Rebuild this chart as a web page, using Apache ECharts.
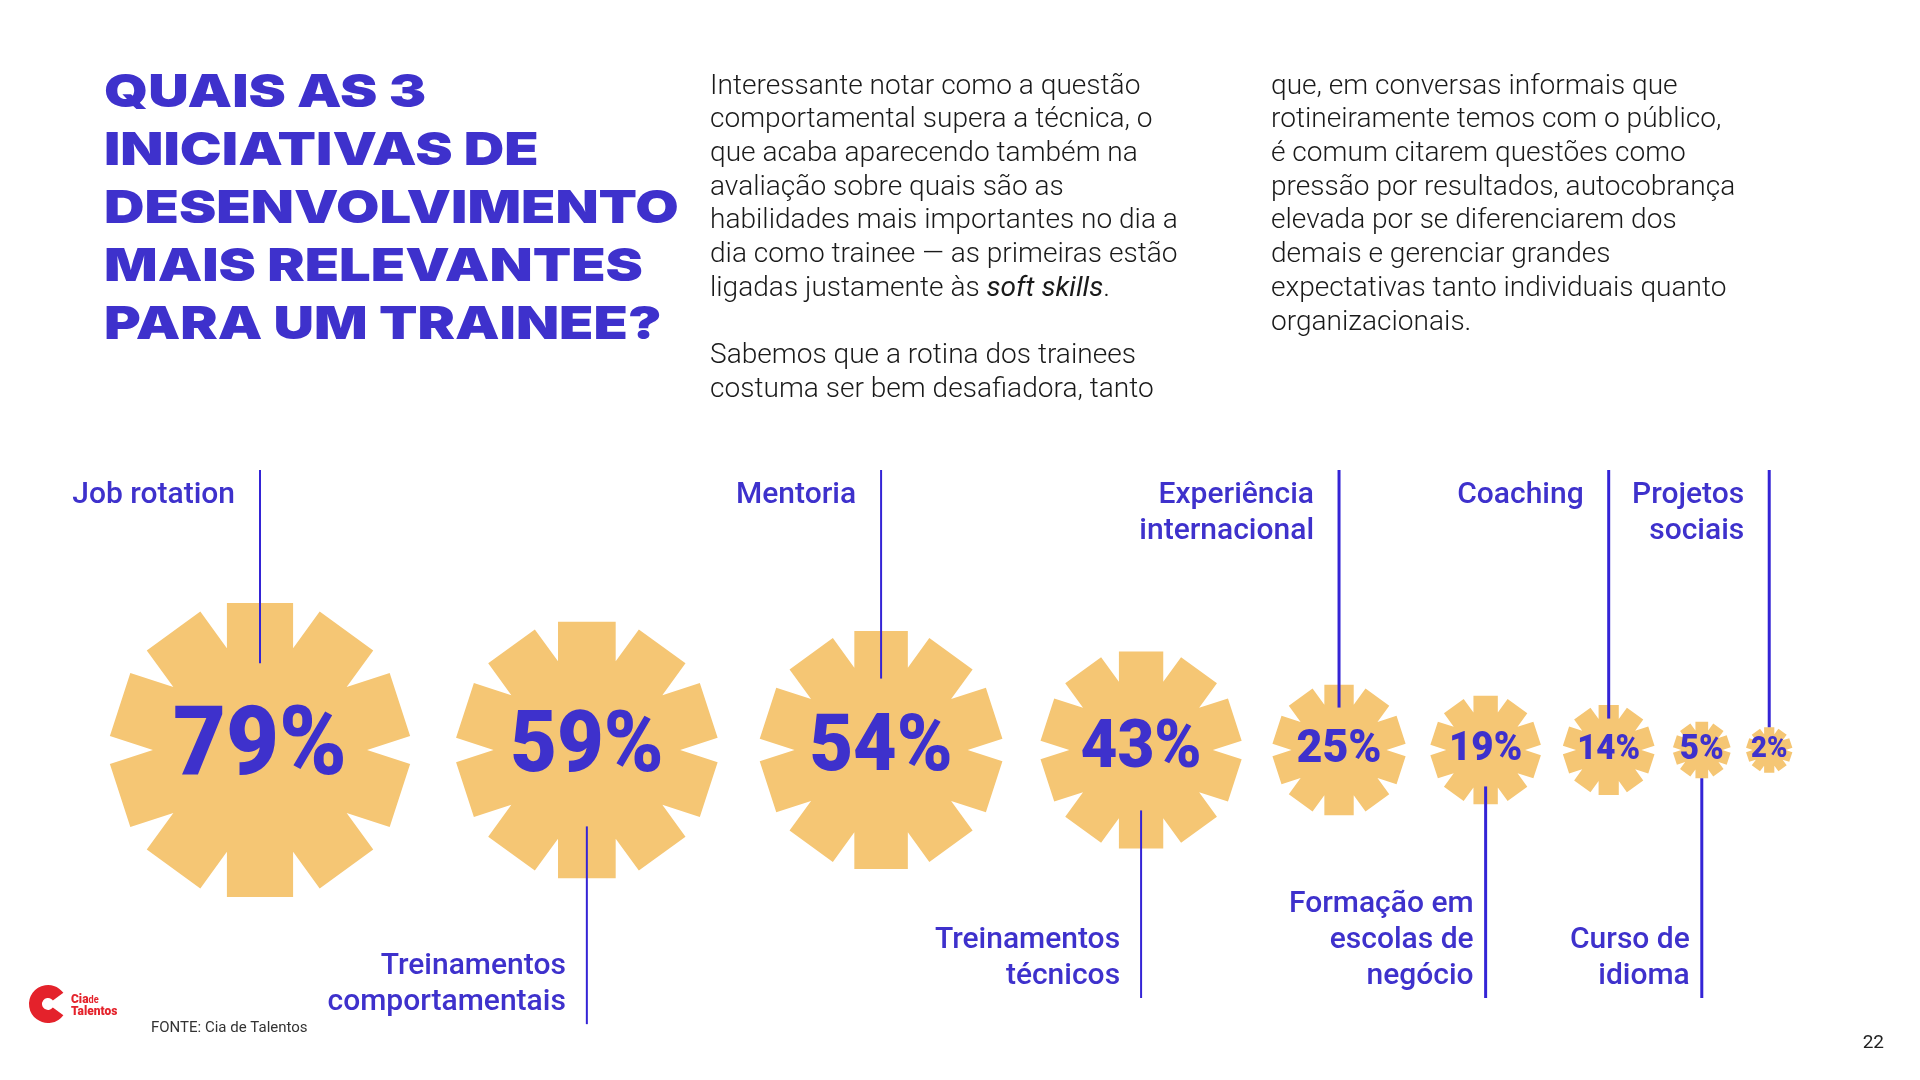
<!DOCTYPE html>
<html>
<head>
<meta charset="utf-8">
<script src="https://cdn.jsdelivr.net/npm/echarts@6/dist/echarts.min.js"></script>
<style>
html, body { margin: 0; padding: 0; background: #ffffff; }
#chart { width: 1920px; height: 1080px; }
</style>
</head>
<body>
<div id="chart"></div>
<script>
// ---------------- data ----------------
const categories = [
  'Job rotation',
  'Treinamentos\ncomportamentais',
  'Mentoria',
  'Treinamentos\ntécnicos',
  'Experiência\ninternacional',
  'Formação em\nescolas de\nnegócio',
  'Coaching',
  'Curso de\nidioma',
  'Projetos\nsociais'
];
const values = [79, 59, 54, 43, 25, 19, 14, 5, 2];

const titleLines = ['QUAIS AS 3', 'INICIATIVAS DE', 'DESENVOLVIMENTO', 'MAIS RELEVANTES', 'PARA UM TRAINEE?'];
const paragraph1 = [
  'Interessante notar como a questão',
  'comportamental supera a técnica, o',
  'que acaba aparecendo também na',
  'avaliação sobre quais são as',
  'habilidades mais importantes no dia a',
  'dia como trainee — as primeiras estão',
  'ligadas justamente às {i|soft skills}.'
];
const paragraph2 = [
  'Sabemos que a rotina dos trainees',
  'costuma ser bem desafiadora, tanto'
];
const paragraph3 = [
  'que, em conversas informais que',
  'rotineiramente temos com o público,',
  'é comum citarem questões como',
  'pressão por resultados, autocobrança',
  'elevada por se diferenciarem dos',
  'demais e gerenciar grandes',
  'expectativas tanto individuais quanto',
  'organizacionais.'
];
const sourceText = 'FONTE: Cia de Talentos';
const pageNumber = '22';

// ---------------- styles / layout ----------------
const BLUE = '#3E31CC';
const LINE_BLUE = '#3424D6';
const BADGE = '#F5C674';
const ROW_Y = 750;
const FIRST_X = 260;
const TOP_LINE_Y = 470;
const TOP_TEXT_TOP = 477;
const BOTTOM_BASELINE = 986;
const LABEL_LH = 36;

// badge size scale (diameter in px) from value
function sizeOf(v) {
  return 38 + 3.7 * v - 0.1 * Math.pow(Math.max(0, v - 60), 2);
}
const sizes = values.map(sizeOf);

// 10-ray badge outline: union of five rotated bars
function starPath() {
  const half = 100, hw = 22.5;
  const d = hw / Math.sin(Math.PI / 10);
  const pts = [];
  for (let k = 0; k < 10; k++) {
    const t = k * Math.PI / 5;
    const ux = Math.sin(t), uy = -Math.cos(t);
    const px = Math.cos(t), py = Math.sin(t);
    pts.push([half * ux - hw * px, half * uy - hw * py]);
    pts.push([half * ux + hw * px, half * uy + hw * py]);
    const tn = t + Math.PI / 10;
    pts.push([d * Math.sin(tn), -d * Math.cos(tn)]);
  }
  let minX = Infinity, maxX = -Infinity, minY = Infinity, maxY = -Infinity;
  pts.forEach(p => { minX = Math.min(minX, p[0]); maxX = Math.max(maxX, p[0]); minY = Math.min(minY, p[1]); maxY = Math.max(maxY, p[1]); });
  const str = 'path://M' + pts.map(p => p[0].toFixed(3) + ' ' + p[1].toFixed(3)).join(' L') + ' Z';
  return { str, ratio: (maxX - minX) / (maxY - minY) };
}
const STAR = starPath();

// packed horizontal layout derived from badge sizes
const xs = [];
sizes.forEach((s, i) => {
  if (i === 0) { xs.push(FIRST_X); return; }
  const prev = sizes[i - 1];
  const gap = 8.5 + 0.068 * (prev + s);
  xs.push(xs[i - 1] + (prev + s) * STAR.ratio / 2 + gap);
});

function pctFontSize(i) {
  const L = sizes[i];
  const txt = String(values[i]) + '%';
  return txt.length >= 3 ? 0.3 * L + 8 : 0.55 * L + 4;
}

const chart = echarts.init(document.getElementById('chart'), null, { renderer: 'canvas' });

const graphics = [];
// title
graphics.push({
  type: 'text', x: 104, y: 64, scaleX: 1.22,
  style: {
    text: titleLines.join('\n'), fill: BLUE,
    fontFamily: 'Inter', fontWeight: 900, fontSize: 46, lineHeight: 58,
    verticalAlign: 'top', align: 'left'
  }
});
// paragraphs
const PFS = 27, PLH = 33.7;
const pStyle = { fill: '#1a1a1a', fontFamily: 'Roboto', fontWeight: 300, fontSize: PFS, lineHeight: PLH, verticalAlign: 'top', align: 'left' };
graphics.push({
  type: 'text', x: 710, y: 70, scaleX: 1.04,
  style: Object.assign({}, pStyle, {
    text: paragraph1.join('\n'),
    rich: { i: { fontFamily: 'Roboto', fontStyle: 'italic', fontWeight: 400, fontSize: PFS, lineHeight: PLH, fill: '#1a1a1a' } }
  })
});
graphics.push({
  type: 'text', x: 710, y: 70 + PLH * 8, scaleX: 1.04,
  style: Object.assign({}, pStyle, { text: paragraph2.join('\n') })
});
graphics.push({
  type: 'text', x: 1271, y: 70, scaleX: 1.04,
  style: Object.assign({}, pStyle, { text: paragraph3.join('\n') })
});
// logo
graphics.push({
  type: 'arc', shape: { cx: 48, cy: 1004, r: 12.5, startAngle: Math.PI / 5, endAngle: Math.PI * 9 / 5, clockwise: true },
  style: { stroke: '#E4222B', lineWidth: 13, fill: null }
});
graphics.push({
  type: 'text', x: 71, y: 994, scaleX: 0.92,
  style: {
    text: '{a|Cia}{b|de}\n{a|Talentos}', verticalAlign: 'top',
    rich: {
      a: { fill: '#E4222B', fontFamily: 'Roboto', fontWeight: 900, fontSize: 13, lineHeight: 12 },
      b: { fill: '#E4222B', fontFamily: 'Roboto', fontWeight: 700, fontSize: 10, lineHeight: 12 }
    }
  }
});
// source
graphics.push({
  type: 'text', x: 151, y: 1028,
  style: { text: sourceText, fill: '#333333', fontFamily: 'Roboto', fontWeight: 400, fontSize: 15, verticalAlign: 'middle', align: 'left' }
});
// page number
graphics.push({
  type: 'text', x: 1884, y: 1043,
  style: { text: pageNumber, fill: '#222222', fontFamily: 'Roboto', fontWeight: 400, fontSize: 19, verticalAlign: 'middle', align: 'right' }
});

const option = {
  animation: false,
  backgroundColor: '#ffffff',
  grid: { left: 0, right: 0, top: 0, bottom: 0 },
  xAxis: { type: 'value', min: 0, max: 1920, show: false },
  yAxis: { type: 'value', min: 0, max: 1080, inverse: true, show: false },
  graphic: graphics,
  series: [
    {
      type: 'scatter',
      silent: true,
      z: 2,
      symbol: STAR.str,
      itemStyle: { color: BADGE, opacity: 1 },
      emphasis: { disabled: true },
      label: { show: false },
      data: values.map((v, i) => ({
        value: [xs[i], ROW_Y, v],
        symbolSize: [sizes[i] * STAR.ratio, sizes[i]]
      }))
    },
    {
      type: 'custom',
      silent: true,
      z: 3,
      renderItem: function (params, api) {
        const i = params.dataIndex;
        const c = api.coord([api.value(0), api.value(1)]);
        const L = sizes[i];
        const fs = pctFontSize(i);
        const top = i % 2 === 0;
        const off = Math.min(L / 2, fs * 0.9);
        let y1, y2, ty, va;
        if (top) {
          y1 = TOP_LINE_Y; y2 = c[1] - off; ty = TOP_TEXT_TOP; va = 'top';
        } else {
          const B = Math.max(BOTTOM_BASELINE, c[1] + L / 2 + 134);
          y1 = c[1] + off; y2 = B + 12; ty = B + 8; va = 'bottom';
        }
        const gap = top ? 25 : (L > 150 ? 21 : 12);
        return {
          type: 'group',
          children: [
            { type: 'line', shape: { x1: c[0], y1: y1, x2: c[0], y2: y2 }, style: { stroke: LINE_BLUE, lineWidth: L > 150 ? 2 : 3 } },
            {
              type: 'text', x: c[0] - gap, y: ty,
              style: {
                text: categories[i], fill: BLUE, fontFamily: 'Roboto', fontWeight: 500,
                fontSize: 30, lineHeight: LABEL_LH, align: 'right', verticalAlign: va
              }
            },
            {
              type: 'text', x: c[0], y: c[1], scaleX: 0.95,
              style: {
                text: api.value(2) + '%', fill: BLUE, fontFamily: 'Roboto', fontWeight: 900,
                fontSize: fs, align: 'center', verticalAlign: 'middle'
              }
            }
          ]
        };
      },
      data: values.map((v, i) => [xs[i], ROW_Y, v])
    }
  ]
};
chart.setOption(option);
</script>
</body>
</html>
